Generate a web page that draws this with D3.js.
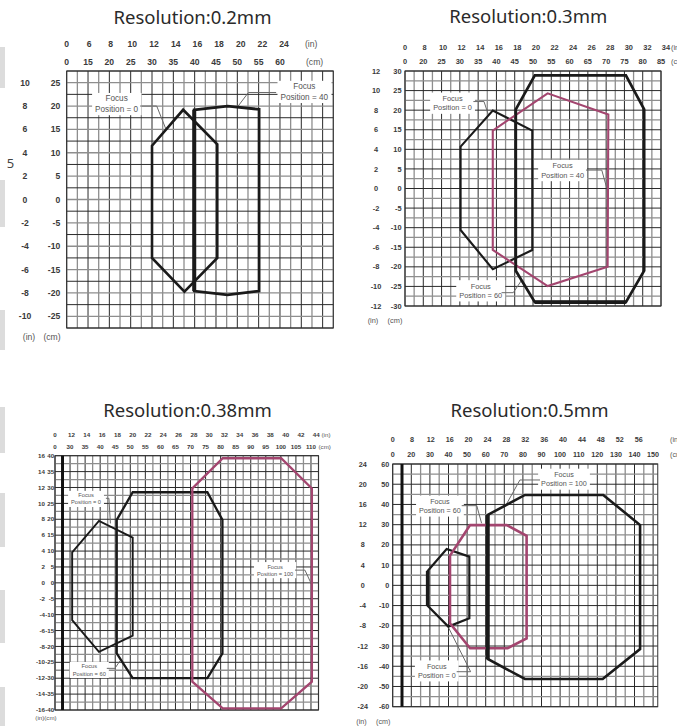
<!DOCTYPE html>
<html><head><meta charset="utf-8">
<script src="https://cdn.jsdelivr.net/npm/d3@7"></script>
<style>body{margin:0;background:#fff}svg{display:block}</style>
</head><body>
<svg id="c" width="677" height="726"></svg>
<script>
// ================= DATA =================
const titles = ["Resolution:0.2mm", "Resolution:0.3mm", "Resolution:0.38mm", "Resolution:0.5mm"];

// Panel 1 (0.2mm)
const p1InTicks = [0, 6, 8, 10, 12, 14, 16, 18, 20, 22, 24];
const p1CmTicks = [0, 15, 20, 25, 30, 35, 40, 45, 50, 55, 60];
const p1SideIn = [10, 8, 6, 4, 2, 0, -2, -4, -6, -8, -10];
const p1SideCm = [25, 20, 15, 10, 5, 0, -5, -10, -15, -20, -25];
const p1Focus0 = [[30, 11.5], [37.3, 19.2], [45.3, 11.8], [45.3, -12.5], [37.6, -19.7], [30, -12.5]];
const p1Focus40 = [[39.9, 19.2], [47.7, 20], [55.1, 19.3], [55.1, -19.6], [47.7, -20.4], [39.9, -19.6]];
const p1Notes = [
  {lines: ["Focus", "Position = 0"], at: [21.7, 20.5], leader: [[27.2, 20], [31.1, 20], [33.2, 15.2]]},
  {lines: ["Focus", "Position = 40"], at: [65.7, 23.1], leader: [[59.1, 22.9], [52.6, 22.9], [50.2, 20]]}
];

// Panel 2 (0.3mm)
const p2InTicks = [0, 8, 10, 12, 14, 16, 18, 20, 22, 24, 26, 28, 30, 32, 34];
const p2CmTicks = [0, 20, 25, 30, 35, 40, 45, 50, 55, 60, 65, 70, 75, 80, 85];
const p2SideIn = [12, 10, 8, 6, 4, 2, 0, -2, -4, -6, -8, -10, -12];
const p2SideCm = [30, 25, 20, 15, 10, 5, 0, -5, -10, -15, -20, -25, -30];
const p2Focus0 = [[30.2, 10.7], [39, 19.9], [49.8, 14.8], [49.8, -15.7], [39, -20.6], [30.2, -10.6]];
const p2Focus40 = [[39, 14.8], [54, 24.3], [70.6, 18.9], [70.4, -20], [54, -24.9], [39, -15.7]];
const p2Focus60 = [[50.5, 28.9], [75.4, 28.9], [80.4, 20.2], [80.4, -21], [75.4, -29], [50.5, -29], [45.3, -21], [45.3, 20.2]];
const p2Notes = [
  {lines: ["Focus", "Position = 0"], at: [28, 21.8], leader: [[33.7, 22.2], [36.6, 22.2], [37.8, 18.8]]},
  {lines: ["Focus", "Position = 40"], at: [58.1, 4.6], leader: [[64.5, 4.7], [68.8, 4.7], [70.2, 0]]},
  {lines: ["Focus", "Position = 60"], at: [35.7, -26.1], leader: [[41.4, -26.6], [44.6, -26.6], [46.9, -23.4]]}
];

// Panel 3 (0.38mm)
const p3InTicks = [0, 12, 14, 16, 18, 20, 22, 24, 26, 28, 30, 32, 34, 36, 38, 40, 42, 44];
const p3CmTicks = [0, 30, 35, 40, 45, 50, 55, 60, 65, 70, 75, 80, 85, 90, 95, 100, 105, 110];
const p3SideIn = [16, 14, 12, 10, 8, 6, 4, 2, 0, -2, -4, -6, -8, -10, -12, -14, -16];
const p3SideCm = [40, 35, 30, 25, 20, 15, 10, 5, 0, -5, -10, -15, -20, -25, -30, -35, -40];
const p3Focus0 = [[30.7, 9.6], [39.6, 19.5], [50.8, 14.2], [50.8, -16.6], [39.6, -21.7], [30.7, -11.7]];
const p3Focus60 = [[45.5, 19.8], [50.8, 28.5], [75.6, 28.5], [80.6, 19.8], [80.6, -22.2], [75.6, -30], [50.8, -30], [45.5, -22.2]];
const p3Focus100 = [[70.6, 29.7], [80.7, 39.2], [100.1, 39.2], [110.3, 29.7], [110.3, -31.1], [100.1, -39.5], [80.7, -39.5], [70.6, -31.1]];
const p3Notes = [
  {lines: ["Focus", "Position = 0"], at: [35.3, 26.4], leader: [[41.9, 26.6], [42.9, 26.6], [43.4, 18.7]]},
  {lines: ["Focus", "Position = 60"], at: [36.4, -27.4], leader: [[42.2, -26.9], [44.9, -26.9], [46.6, -24.5]]},
  {lines: ["Focus", "Position = 100"], at: [98.1, 4.0], leader: [[104.7, 4], [108, 4], [110.3, -0.7]]}
];

// Panel 4 (0.5mm)
const p4InTicks = [0, 8, 12, 16, 20, 24, 28, 32, 36, 40, 44, 48, 52, 56];
const p4CmTicks = [0, 20, 30, 40, 50, 60, 70, 80, 90, 100, 110, 120, 130, 140, 150];
const p4SideIn = [24, 20, 16, 12, 8, 4, 0, -4, -8, -12, -16, -20, -24];
const p4SideCm = [60, 50, 40, 30, 20, 10, 0, -10, -20, -30, -40, -50, -60];
const p4Focus0 = [[28.8, 7.1], [39, 18], [51.2, 14.2], [51.2, -16.3], [39.9, -20.4], [28.8, -10.1]];
const p4Focus60 = [[40.8, 14.7], [51.6, 29.8], [71.3, 29.8], [82, 24.5], [82, -26.2], [71.8, -31.1], [51.6, -31.1], [40.8, -18.8]];
const p4Focus100 = [[61.1, 34.8], [81.1, 44.7], [123.2, 44.7], [143, 29.8], [143, -31.5], [122.9, -46.3], [81.1, -46.3], [61.1, -36.4]];
const p4Notes = [
  {lines: ["Focus", "Position = 100"], at: [102.1, 52.5], leader: [[89.2, 52.1], [78.4, 52.1], [70.4, 38.9]]},
  {lines: ["Focus", "Position = 60"], at: [35.4, 39.2], leader: [[47.1, 39.4], [55.2, 39.4], [57.8, 30.7]]},
  {lines: ["Focus", "Position = 0"], at: [33.7, -42.3], leader: [[44.4, -42.7], [51.9, -42.7], [39.9, -20.7]]}
];

// ================= LAYOUT / STYLE =================
const MAG = "#a3456f", INK = "#1a1a1a";
const panels = [
  {title: titles[0], tx: 192.5, ty: 24, x0: 66.7, x1: 333.3, y0: 71, y1: 328,
   xDom: [10, 72.5], yDom: [-27.5, 27.5], xStep: 2.5, yStep: 2.5, heavyX: null,
   inTicks: p1InTicks, cmTicks: p1CmTicks, sideIn: p1SideIn, sideCm: p1SideCm,
   tickFont: 8.6, noteFont: 8.2, inRow: -27.5, cmRow: -9.5,
   sideInX: -41.7, sideInAnchor: "middle", sideCmX: -6.5,
   unitTop: [305, 306], unitBottom: [["(in)", -37.7], ["(cm)", -14.7]], unitBottomY: 9,
   shapes: [
     {data: p1Focus0, color: INK, width: 2.6},
     {data: p1Focus40, color: INK, width: 2.8, heavy: [5, 0], heavyWidth: 4}
   ], notes: p1Notes},
  {title: titles[1], tx: 528.3, ty: 23.3, x0: 405, x1: 661, y0: 71, y1: 306,
   xDom: [15, 85], yDom: [-30, 30], xStep: 2.5, yStep: 2.5, heavyX: null,
   inTicks: p2InTicks, cmTicks: p2CmTicks, sideIn: p2SideIn, sideCm: p2SideCm,
   tickFont: 7.4, noteFont: 7.4, inRow: -23.7, cmRow: -9.3,
   sideInX: -29, sideInAnchor: "middle", sideCmX: -3.5,
   unitTop: [671, 671], unitBottom: [["(in)", -32], ["(cm)", -10]], unitBottomY: 14,
   shapes: [
     {data: p2Focus0, color: INK, width: 2.1},
     {data: p2Focus40, color: MAG, width: 2.1},
     {data: p2Focus60, color: INK, width: 2.7, heavy: [4, 5], heavyWidth: 3.6}
   ], notes: p2Notes},
  {title: titles[2], tx: 187.5, ty: 416.7, x0: 55, x1: 318.5, y0: 455.7, y1: 710,
   xDom: [25, 112.5], yDom: [-40, 40], xStep: 2.5, yStep: 2.5, heavyX: 27.5,
   inTicks: p3InTicks, cmTicks: p3CmTicks, sideIn: p3SideIn, sideCm: p3SideCm,
   tickFont: 6.2, noteFont: 5.7, inRow: -21, cmRow: -8.5,
   sideInX: -10, sideInAnchor: "end", sideCmX: -0.8,
   unitTop: [321.5, 318.5], unitBottom: [["(in)(cm)", -9]], unitBottomY: 8,
   shapes: [
     {data: p3Focus0, color: INK, width: 1.9},
     {data: p3Focus60, color: INK, width: 2.3},
     {data: p3Focus100, color: MAG, width: 2.3}
   ], notes: p3Notes},
  {title: titles[3], tx: 529.5, ty: 416.7, x0: 392.7, x1: 657.75, y0: 464, y1: 706.7,
   xDom: [10, 152.5], yDom: [-60, 60], xStep: 5, yStep: 5, heavyX: 15,
   inTicks: p4InTicks, cmTicks: p4CmTicks, sideIn: p4SideIn, sideCm: p4SideCm,
   tickFont: 7.2, noteFont: 7.2, inRow: -24.7, cmRow: -9.7,
   sideInX: -30, sideInAnchor: "middle", sideCmX: -3.4,
   unitTop: [670, 670], unitBottom: [["(in)", -31.2], ["(cm)", -9.4]], unitBottomY: 15,
   shapes: [
     {data: p4Focus0, color: INK, width: 2.2, heavy: [5, 0], heavyWidth: 3.6},
     {data: p4Focus60, color: MAG, width: 2.6},
     {data: p4Focus100, color: INK, width: 2.6, heavy: [7, 0], heavyWidth: 4}
   ], notes: p4Notes}
];

// ================= DRAW =================
const svg = d3.select("#c");
svg.append("rect").attr("width", 677).attr("height", 726).attr("fill", "#fff");

// page-edge artifacts from the scanned source
const edgeBars = [[47, 88], [180, 227], [310, 350], [407, 453], [493, 547], [590, 643], [687, 726]];
svg.selectAll(".edge").data(edgeBars).join("rect")
  .attr("x", 0).attr("width", 5).attr("y", d => d[0]).attr("height", d => d[1] - d[0])
  .attr("fill", "#dcdcdc");
svg.append("text").attr("x", 10.5).attr("y", 168).attr("text-anchor", "middle")
  .attr("font-family", "Noto Sans").attr("font-size", 13).attr("fill", "#444").text("5");

const TICKFONT = "'Liberation Sans', Arial, sans-serif";

panels.forEach(cfg => {
  const x = d3.scaleLinear().domain(cfg.xDom).range([cfg.x0, cfg.x1]);
  const y = d3.scaleLinear().domain(cfg.yDom).range([cfg.y1, cfg.y0]);
  const g = svg.append("g");

  // grid
  const xs = d3.range(cfg.xDom[0], cfg.xDom[1] + 1e-6, cfg.xStep);
  const ys = d3.range(cfg.yDom[0], cfg.yDom[1] + 1e-6, cfg.yStep);
  g.append("g").selectAll("line").data(xs).join("line")
    .attr("x1", d => x(d)).attr("x2", d => x(d)).attr("y1", cfg.y0).attr("y2", cfg.y1)
    .attr("stroke", (d, i) => i % 2 ? "#8e8e8e" : "#2a2a2a")
    .attr("stroke-width", (d, i) => i % 2 ? 1.3 : 1);
  g.append("g").selectAll("line").data(ys).join("line")
    .attr("y1", d => y(d)).attr("y2", d => y(d)).attr("x1", cfg.x0).attr("x2", cfg.x1)
    .attr("stroke", (d, i) => i % 2 ? "#8e8e8e" : "#2a2a2a")
    .attr("stroke-width", (d, i) => i % 2 ? 1.3 : 1);
  g.append("rect").attr("x", cfg.x0).attr("y", cfg.y0)
    .attr("width", cfg.x1 - cfg.x0).attr("height", cfg.y1 - cfg.y0)
    .attr("fill", "none").attr("stroke", "#333").attr("stroke-width", 1);
  if (cfg.heavyX != null) {
    g.append("line").attr("x1", x(cfg.heavyX)).attr("x2", x(cfg.heavyX))
      .attr("y1", cfg.y0).attr("y2", cfg.y1).attr("stroke", "#111").attr("stroke-width", 3);
  }

  // annotation boxes
  const lineGen = d3.line().x(d => x(d[0])).y(d => y(d[1]));
  cfg.notes.forEach(n => {
    const ng = g.append("g");
    const rect = ng.append("rect").attr("fill", "#fff");
    const lh = cfg.noteFont * 1.25;
    const t = ng.append("text").attr("font-family", TICKFONT).attr("font-size", cfg.noteFont)
      .attr("fill", "#555").attr("text-anchor", "middle");
    n.lines.forEach((s, i) => {
      t.append("tspan").attr("x", x(n.at[0]))
        .attr("y", y(n.at[1]) + (i - (n.lines.length - 1) / 2) * lh + cfg.noteFont * 0.35)
        .text(s);
    });
    const bb = t.node().getBBox();
    rect.attr("x", bb.x - 3).attr("y", bb.y - 1.5).attr("width", bb.width + 6).attr("height", bb.height + 3);
    g.append("path").attr("d", lineGen(n.leader)).attr("fill", "none")
      .attr("stroke", "#6a6a6a").attr("stroke-width", 1);
  });

  // focus zones
  cfg.shapes.forEach(s => {
    g.append("path").attr("d", lineGen(s.data) + "Z").attr("fill", "none")
      .attr("stroke", s.color).attr("stroke-width", s.width).attr("stroke-linejoin", "miter");
    if (s.heavy) {
      g.append("path").attr("d", lineGen([s.data[s.heavy[0]], s.data[s.heavy[1]]]))
        .attr("stroke", s.color).attr("stroke-width", s.heavyWidth).attr("fill", "none");
    }
  });

  // top labels (inch row and cm row); the 0 label sits at the axis break (grid left edge)
  const tick = (sel) => sel.attr("font-family", TICKFONT).attr("font-size", cfg.tickFont)
    .attr("font-weight", "bold").attr("fill", "#3a3a3a");
  g.append("g").selectAll("text").data(cfg.inTicks).join("text").call(tick)
    .attr("text-anchor", "middle")
    .attr("x", d => d === 0 ? x(cfg.xDom[0]) : x(d * 2.54))
    .attr("y", cfg.y0 + cfg.inRow).attr("dy", "0.35em").text(d => d);
  g.append("g").selectAll("text").data(cfg.cmTicks).join("text").call(tick)
    .attr("text-anchor", "middle")
    .attr("x", d => d === 0 ? x(cfg.xDom[0]) : x(d))
    .attr("y", cfg.y0 + cfg.cmRow).attr("dy", "0.35em").text(d => d);
  g.append("text").call(tick).attr("font-weight", "normal").attr("fill", "#555")
    .attr("x", cfg.unitTop[0]).attr("y", cfg.y0 + cfg.inRow).attr("dy", "0.35em").text("(in)");
  g.append("text").call(tick).attr("font-weight", "normal").attr("fill", "#555")
    .attr("x", cfg.unitTop[1]).attr("y", cfg.y0 + cfg.cmRow).attr("dy", "0.35em").text("(cm)");

  // side labels (inch / cm pairs per row)
  g.append("g").selectAll("text").data(cfg.sideCm).join("text").call(tick)
    .attr("text-anchor", "end").attr("x", cfg.x0 + cfg.sideCmX)
    .attr("y", d => y(d)).attr("dy", "0.35em").text(d => d);
  g.append("g").selectAll("text").data(cfg.sideIn).join("text").call(tick)
    .attr("text-anchor", cfg.sideInAnchor).attr("x", cfg.x0 + cfg.sideInX)
    .attr("y", (d, i) => y(cfg.sideCm[i])).attr("dy", "0.35em").text(d => d);
  cfg.unitBottom.forEach(u => {
    g.append("text").call(tick).attr("font-weight", "normal").attr("fill", "#555")
      .attr("text-anchor", "middle").attr("x", cfg.x0 + u[1])
      .attr("y", cfg.y1 + cfg.unitBottomY).attr("dy", "0.35em").text(u[0]);
  });

  // title
  svg.append("text").attr("x", cfg.tx).attr("y", cfg.ty).attr("text-anchor", "middle")
    .attr("font-family", "'Noto Sans', sans-serif").attr("font-size", 18.5)
    .attr("fill", "#2a2a2a").text(cfg.title);
});
</script>
</body></html>
